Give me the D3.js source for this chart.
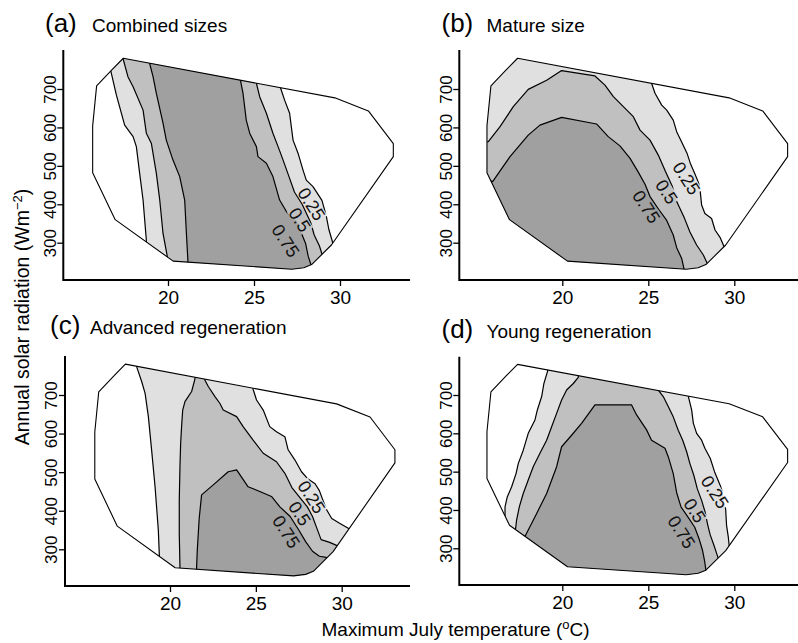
<!DOCTYPE html>
<html>
<head>
<meta charset="utf-8">
<script src="https://cdn.jsdelivr.net/npm/d3@7"></script>
<style>
  body { margin: 0; background: #fff; }
  svg { font-family: "Liberation Sans", Arial, Helvetica, sans-serif; }
</style>
</head>
<body>
<div id="chart"></div>
<script>
// outline of the sampled climate space: [max July temperature, solar radiation]
const hull = [
  [17.4, 780], [29.7, 677], [31.65, 643], [33.1, 558], [33.1, 524],
  [29.5, 294], [28.35, 243], [27.9, 235], [27.2, 231], [20.3, 252],
  [16.93, 360], [15.62, 482], [15.62, 604], [15.85, 708], [16.72, 749]
];

const levels = ["0.25", "0.5", "0.75"];
const bandFill = ["#e0e0e0", "#c0c0c0", "#a0a0a0"];
const xTicks = [20, 25, 30];
const yTicks = [300, 400, 500, 600, 700];

// regions above each probability level (points outside the hull only close the ring)
const combined25 = [
  [16.4, 790], [16.67, 748], [17.0, 684], [17.48, 606], [17.97, 576], [18.16, 550], [18.35, 481], [18.55, 411], [18.74, 307], [18.8, 200],
  [30.5, 200], [29.9, 250],
  [29.59, 298], [29.35, 335], [29.2, 370], [28.95, 410], [28.43, 446], [28.04, 463], [27.85, 489], [27.56, 533], [27.27, 567], [27.07, 637], [26.78, 671], [26.55, 702], [26.4, 740],
  [22, 830]
];
const combined50 = [
  [17.3, 800], [17.38, 780], [17.67, 732], [17.97, 706], [18.55, 645], [18.74, 585], [19.03, 559], [19.32, 481], [19.52, 411], [19.71, 324], [19.96, 264], [20.05, 200],
  [30.5, 200], [29.2, 230],
  [28.97, 268], [28.8, 292], [28.5, 320], [28.3, 352], [27.8, 400], [27.35, 432], [27.05, 470], [26.65, 520], [26.4, 550], [26.1, 585], [25.72, 637], [25.33, 680], [25.14, 715], [25.05, 750],
  [22, 830]
];
const combined75 = [
  [18.85, 800], [18.93, 767], [19.13, 732], [19.32, 689], [19.71, 611], [19.9, 567], [20.29, 515], [20.68, 472], [20.97, 411], [21.07, 324], [21.16, 251], [21.2, 200],
  [30.5, 200], [28.4, 210],
  [28.33, 240], [28.15, 265], [28.0, 298], [27.8, 320], [27.5, 355], [26.9, 380], [26.49, 411], [26.1, 472], [25.72, 507], [25.23, 524], [25.14, 550], [24.75, 585], [24.55, 619], [24.36, 689], [24.21, 723], [24.15, 750],
  [22, 830]
];
const combinedLabels = [[28.35, 401], [27.67, 360], [26.85, 305]];

const mature25 = [
  [25.1, 760], [25.19, 715], [25.39, 689], [25.78, 658], [26.07, 645], [26.45, 619], [26.65, 589], [26.96, 560], [27.25, 533], [27.44, 507], [27.7, 480], [27.93, 455], [28.03, 429], [28.1, 398], [28.29, 376], [28.68, 363], [28.88, 333], [29.17, 314], [29.4, 290], [29.7, 260],
  [29.7, 200], [14, 200], [14, 820], [25.1, 820]
];
const mature50 = [
  [14.5, 555], [15.7, 563], [16.38, 602], [17.15, 654], [18.02, 699], [19.09, 723], [19.96, 748], [21.9, 734], [22.48, 710], [22.97, 680], [23.55, 654], [24.13, 628], [24.52, 593], [25.1, 567], [25.58, 528], [26.0, 485], [26.4, 446], [26.67, 405], [27.1, 364], [27.42, 328], [27.81, 294], [28.2, 268], [28.43, 246], [28.6, 210],
  [14, 200]
];
const mature75 = [
  [15.3, 470], [15.95, 459], [16.96, 524], [18.02, 580], [18.7, 606], [19.96, 626], [21.99, 609], [22.67, 576], [23.35, 552], [23.93, 520], [24.4, 485], [24.81, 452], [25.1, 420], [25.6, 387], [26.07, 358], [26.45, 320], [26.65, 287], [26.94, 259], [27.07, 233], [27.1, 200],
  [14, 200]
];
const matureLabels = [[27.23, 468], [26.07, 433], [24.9, 394]];

const advanced25 = [
  [18.0, 800], [18.06, 773], [18.35, 735], [18.55, 704], [18.74, 644], [18.93, 557], [19.13, 462], [19.32, 350], [19.38, 283], [19.42, 230],
  [31.5, 200], [31.5, 345],
  [30.56, 350], [29.9, 367], [29.42, 380], [29.13, 402], [28.9, 428], [28.7, 452], [28.45, 470], [28.04, 482], [27.66, 501], [27.27, 532], [26.88, 558], [26.69, 592], [26.2, 605], [25.81, 618], [25.43, 661], [25.04, 687], [24.84, 715], [24.8, 750]
];
const advanced50 = [
  [21.5, 790], [21.45, 741], [21.26, 709], [20.87, 683], [20.74, 661], [20.68, 622], [20.62, 575], [20.58, 514], [20.54, 428], [20.54, 341], [20.58, 255], [20.6, 200],
  [31.5, 200], [30.3, 300],
  [29.73, 309.5], [29.3, 318], [28.8, 325], [28.55, 355], [28.3, 385], [28.0, 410], [27.6, 432], [27.1, 460], [26.69, 497], [26.2, 527], [25.43, 549], [24.84, 583], [24.26, 618], [23.88, 644], [23.1, 661], [22.91, 678], [22.62, 696], [22.23, 722], [22.03, 739], [21.95, 780]
];
const advanced75 = [
  [21.55, 200], [21.55, 255], [21.59, 298], [21.7, 380], [21.84, 441], [22.52, 467], [23.39, 501], [23.88, 506], [24.55, 462], [25.23, 450], [25.91, 437], [26.4, 410], [27.0, 385], [27.5, 350], [27.9, 320], [28.3, 295], [28.7, 282], [29.1, 279], [29.6, 260],
  [29.6, 200]
];
const advancedLabels = [[28.25, 436], [27.56, 393], [26.78, 346]];

const young25 = [
  [19.2, 800], [19.15, 763], [18.93, 730], [18.8, 696], [18.55, 661], [18.41, 635], [18.02, 600], [17.73, 556], [17.44, 521], [17.31, 495], [17.05, 460], [16.8, 434], [16.67, 408], [16.67, 386], [16.5, 340],
  [16, 200], [31, 200], [30.3, 290],
  [29.71, 303.5], [29.65, 330], [29.55, 360], [29.5, 400], [29.4, 432], [29.2, 462], [28.85, 500], [28.6, 535], [28.29, 561], [28.1, 582], [27.81, 600], [27.62, 626], [27.52, 661], [27.33, 696], [27.3, 730]
];
const young50 = [
  [21.0, 790], [20.93, 746], [20.64, 730], [20.25, 713], [19.96, 687], [19.67, 652], [19.38, 617], [19.09, 582], [18.7, 548], [18.31, 513], [18.02, 478], [17.73, 443], [17.5, 408], [17.34, 373], [17.29, 353], [17.1, 320],
  [17, 200], [31, 200], [29.6, 250],
  [29.07, 273], [28.95, 290], [28.8, 310], [28.6, 335], [28.45, 362], [28.3, 395], [28.1, 425], [27.85, 455], [27.65, 490], [27.42, 521], [27.23, 552], [27.0, 582], [26.74, 608], [26.45, 643], [26.16, 670], [25.87, 696], [25.58, 713], [25.5, 750]
];
const young75 = [
  [17.5, 320], [17.85, 333], [18.51, 391], [19.09, 443], [19.67, 513], [19.96, 565], [20.54, 595], [21.12, 626], [21.9, 674], [24.03, 674], [24.32, 648], [24.9, 609], [25.19, 582], [25.97, 561], [26.16, 539], [26.45, 495], [26.65, 445], [26.9, 408], [27.3, 382], [27.7, 355], [27.95, 325], [28.15, 295], [28.28, 265], [28.35, 242.5], [28.4, 200],
  [17.5, 200]
];
const youngLabels = [[28.88, 447], [27.71, 399], [26.94, 343]];

const W = 798, H = 643;
const labelAngle = 57;

const panels = [
  { letter: "(a)", title: "Combined sizes", rings: [combined25, combined50, combined75], labels: combinedLabels,
    x20: 168, x30: 340, y300: 242.7, y700: 89, left: 63.3, bottom: 280, top: 50, right: 410, letterX: 45, titleX: 92, titleY: 32.3 },
  { letter: "(b)", title: "Mature size", rings: [mature25, mature50, mature75], labels: matureLabels,
    x20: 562.3, x30: 734.3, y300: 242.7, y700: 89, left: 459.3, bottom: 280, top: 50, right: 800, letterX: 441.5, titleX: 486.5, titleY: 31.7 },
  { letter: "(c)", title: "Advanced regeneration", rings: [advanced25, advanced50, advanced75], labels: advancedLabels,
    x20: 170, x30: 341.7, y300: 549.3, y700: 395, left: 65, bottom: 586, top: 356, right: 410, letterX: 50, titleX: 90, titleY: 333.5 },
  { letter: "(d)", title: "Young regeneration", rings: [young25, young50, young75], labels: youngLabels,
    x20: 562.3, x30: 734.3, y300: 548.3, y700: 395, left: 459.3, bottom: 585, top: 356.7, right: 800, letterX: 441.5, titleX: 486.5, titleY: 337.5 }
];

const svg = d3.select("#chart").append("svg")
  .attr("width", W)
  .attr("height", H);
const defs = svg.append("defs");

panels.forEach((p, i) => {
  const x = d3.scaleLinear().domain([20, 30]).range([p.x20, p.x30]);
  const y = d3.scaleLinear().domain([300, 700]).range([p.y300, p.y700]);
  const line = d3.line().x(d => x(d[0])).y(d => y(d[1]));
  const ring = d => line(d) + "Z";

  defs.append("clipPath").attr("id", "hull" + i)
    .append("path").attr("d", ring(hull));
  const mask = defs.append("mask").attr("id", "gap" + i)
    .attr("maskUnits", "userSpaceOnUse")
    .attr("x", 0).attr("y", 0).attr("width", W).attr("height", H);
  mask.append("rect").attr("width", W).attr("height", H).attr("fill", "#fff");

  const g = svg.append("g");

  g.append("path").attr("d", ring(hull)).attr("fill", "#fff");

  const inside = g.append("g").attr("clip-path", `url(#hull${i})`);
  inside.selectAll("path.band")
    .data(p.rings)
    .join("path")
    .attr("class", "band")
    .attr("d", ring)
    .attr("fill", (d, k) => bandFill[k]);

  inside.append("g")
    .attr("mask", `url(#gap${i})`)
    .selectAll("path")
    .data(p.rings)
    .join("path")
    .attr("d", ring)
    .attr("fill", "none")
    .attr("stroke", "#000")
    .attr("stroke-width", 1.2)
    .attr("stroke-linejoin", "round");

  g.append("path").attr("d", ring(hull))
    .attr("fill", "none")
    .attr("stroke", "#000")
    .attr("stroke-width", 1.1)
    .attr("stroke-linejoin", "round");

  // contour labels, the line is broken under each one
  const lab = g.selectAll("text.level")
    .data(p.labels)
    .join("text")
    .attr("class", "level")
    .attr("transform", d => `translate(${x(d[0])},${y(d[1])}) rotate(${labelAngle})`)
    .attr("text-anchor", "middle")
    .attr("dy", "0.36em")
    .attr("font-size", 18)
    .attr("fill", "#111")
    .text((d, k) => levels[k]);
  lab.each(function(d) {
    const w = this.getComputedTextLength();
    mask.append("rect")
      .attr("x", -w / 2 - 1).attr("y", -7)
      .attr("width", w + 2).attr("height", 14)
      .attr("transform", `translate(${x(d[0])},${y(d[1])}) rotate(${labelAngle})`)
      .attr("fill", "#000");
  });

  // axes
  const ax = g.append("g")
    .attr("transform", `translate(0,${p.bottom})`)
    .call(d3.axisBottom(x).tickValues(xTicks).tickSize(6).tickPadding(5));
  ax.select(".domain").remove();
  ax.attr("font-family", null).attr("font-size", 19);
  ax.selectAll("line").attr("stroke-width", 1.3);
  ax.selectAll("text").attr("fill", "#000");

  const ay = g.append("g")
    .attr("transform", `translate(${p.left},0)`)
    .call(d3.axisLeft(y).tickValues(yTicks).tickSize(6));
  ay.select(".domain").remove();
  ay.attr("font-family", "'Liberation Sans Narrow', 'Liberation Sans', sans-serif").attr("font-size", 17);
  ay.selectAll("line").attr("stroke-width", 1.3);
  ay.selectAll("text")
    .attr("x", 0).attr("y", -7.7).attr("dy", null)
    .attr("text-anchor", "middle")
    .attr("transform", "rotate(-90)")
    .attr("fill", "#000");

  g.append("path")
    .attr("d", `M${p.left},${p.top}V${p.bottom}H${p.right}`)
    .attr("fill", "none")
    .attr("stroke", "#000")
    .attr("stroke-width", 2);

  g.append("text").attr("x", p.letterX).attr("y", p.titleY)
    .attr("font-size", 26).text(p.letter);
  g.append("text").attr("x", p.titleX).attr("y", p.titleY)
    .attr("font-size", 19).text(p.title);
});

const xt = svg.append("text")
  .attr("x", 455.5).attr("y", 636)
  .attr("text-anchor", "middle")
  .attr("font-size", 19);
xt.append("tspan").text("Maximum July temperature (");
xt.append("tspan").attr("dy", -7).attr("font-size", 13).text("o");
xt.append("tspan").attr("dy", 7).text("C)");

const yt = svg.append("text")
  .attr("transform", "translate(28.5,317) rotate(-90)")
  .attr("text-anchor", "middle")
  .attr("font-size", 19.5);
yt.append("tspan").text("Annual solar radiation (Wm");
yt.append("tspan").attr("dy", -7).attr("font-size", 13).text("\u22122");
yt.append("tspan").attr("dy", 7).text(")");
</script>
</body>
</html>
